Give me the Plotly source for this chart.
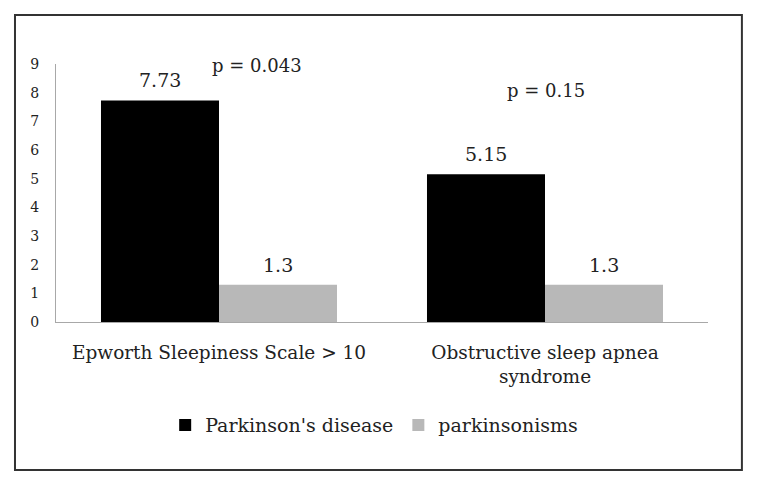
import plotly.graph_objects as go

categories = ["Epworth Sleepiness Scale > 10", "Obstructive sleep apnea<br>syndrome"]
series_names = ["Parkinson's disease", "parkinsonisms"]
pd_values = [7.73, 5.15]
park_values = [1.3, 1.3]
pd_labels = ["7.73", "5.15"]
park_labels = ["1.3", "1.3"]
p_texts = ["p = 0.043", "p = 0.15"]
p_y = [8.96, 8.09]
y_ticks = [0, 1, 2, 3, 4, 5, 6, 7, 8, 9]

FONT = "DejaVu Serif"
TXT = "#222222"
BARGAP = 0.276

fig = go.Figure()
fig.add_trace(go.Bar(
    x=categories, y=pd_values, name=series_names[0],
    marker=dict(color="#000000", line=dict(width=0)),
))
fig.add_trace(go.Bar(
    x=categories, y=park_values, name=series_names[1],
    marker=dict(color="#b8b8b8", line=dict(width=0)),
))

annotations = []
off = (1 - BARGAP) / 4
for i in range(len(categories)):
    for vals, labs, sgn in ((pd_values, pd_labels, -1), (park_values, park_labels, 1)):
        annotations.append(dict(
            x=i + sgn * off, y=vals[i], xref="x", yref="y", text=labs[i],
            showarrow=False, yanchor="bottom", yshift=7,
            font=dict(family=FONT, size=19, color=TXT),
        ))
for i, (t, yv) in enumerate(zip(p_texts, p_y)):
    annotations.append(dict(
        x=i, y=yv, xref="x", yref="y", text=t, showarrow=False,
        xshift=38 if i == 0 else 1,
        font=dict(family=FONT, size=18, color=TXT),
    ))

fig.update_layout(
    width=750, height=479,
    margin=dict(l=48, r=50, t=56, b=165),
    paper_bgcolor="white", plot_bgcolor="white",
    barmode="group", bargap=BARGAP, bargroupgap=0,
    font=dict(family=FONT, color=TXT),
    showlegend=True,
    legend=dict(
        orientation="h", x=0.488, xanchor="center", y=-0.40, yanchor="middle",
        font=dict(family=FONT, size=19, color=TXT),
        tracegroupgap=0,
    ),
    annotations=annotations,
    shapes=[dict(
        type="rect", xref="paper", yref="paper",
        x0=-0.0629, x1=1.052, y0=-0.574, y1=1.19,
        line=dict(color="#333333", width=2), fillcolor="rgba(0,0,0,0)",
        layer="below",
    )],
)
fig.update_yaxes(
    range=[0, 9], tickvals=y_ticks, showgrid=False, zeroline=False,
    showline=True, linecolor="#a8a8a8", linewidth=1,
    ticks="", ticklabelstandoff=13,
    tickfont=dict(family=FONT, size=14, color=TXT),
)
fig.update_xaxes(
    range=[-0.5, 1.5],
    showgrid=False, showline=True, linecolor="#a8a8a8", linewidth=1,
    ticks="", ticklabelstandoff=14,
    tickfont=dict(family=FONT, size=18.5, color=TXT),
)

fig.write_html("out.html")
